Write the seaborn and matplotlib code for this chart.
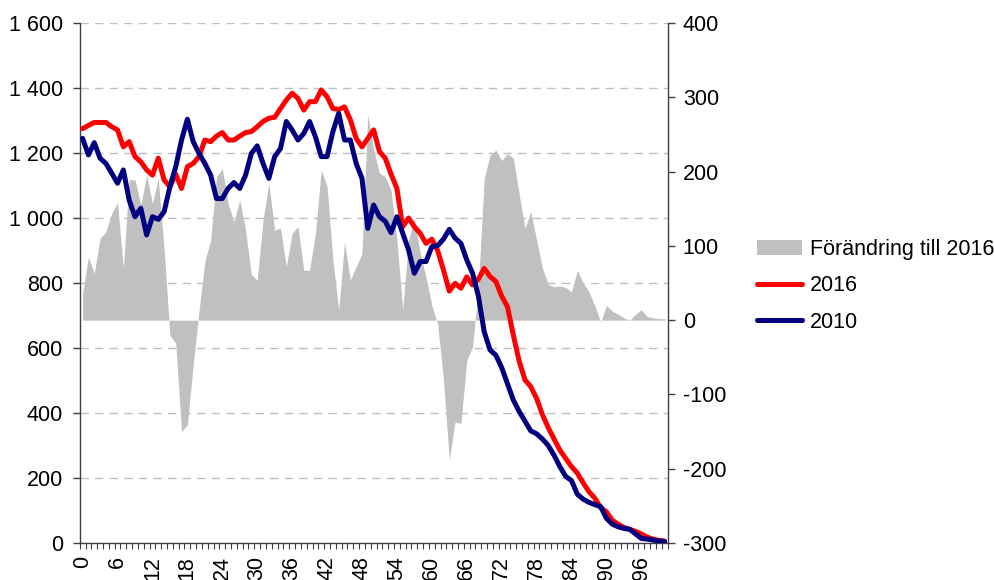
import numpy as np
import matplotlib
matplotlib.use("Agg")
import matplotlib.pyplot as plt
from matplotlib.ticker import FuncFormatter
import seaborn as sns

# ages 0-100 (one category per year)
ages = list(range(0, 101))

pop_2016 = [1275, 1285, 1294, 1294, 1294, 1281, 1271, 1219, 1235, 1189,
            1173, 1148, 1132, 1184, 1117, 1096, 1135, 1091, 1158, 1168,
            1189, 1240, 1235, 1252, 1263, 1240, 1240, 1252, 1263, 1266,
            1281, 1297, 1307, 1310, 1337, 1363, 1384, 1368, 1332, 1358,
            1358, 1394, 1373, 1337, 1334, 1342, 1302, 1245, 1219, 1245,
            1271, 1205, 1184, 1135, 1091, 973, 1000, 973, 953, 922,
            935, 900, 840, 775, 799, 784, 819, 794, 812, 845,
            820, 805, 760, 727, 640, 560, 502, 481, 445, 395,
            355, 320, 286, 260, 235, 215, 185, 158, 138, 109,
            96, 70, 58, 48, 42, 36, 28, 18, 12, 8,
            6]

pop_2010 = [1245, 1194, 1232, 1184, 1168, 1138, 1107, 1148, 1055, 1004,
            1030, 948, 1004, 996, 1019, 1096, 1158, 1240, 1304, 1235,
            1199, 1168, 1132, 1060, 1060, 1091, 1109, 1091, 1132, 1199,
            1222, 1168, 1122, 1189, 1214, 1297, 1271, 1240, 1260, 1297,
            1250, 1189, 1189, 1266, 1322, 1240, 1240, 1168, 1122, 968,
            1040, 1004, 990, 955, 1004, 953, 902, 830, 866, 866,
            912, 915, 935, 965, 938, 922, 871, 830, 760, 650,
            594, 578, 540, 490, 440, 405, 375, 345, 336, 320,
            300, 270, 235, 205, 192, 150, 135, 125, 118, 112,
            76, 58, 50, 45, 42, 28, 14, 12, 9, 6,
            4]

change = [36, 85, 63, 110, 119, 144, 158, 70, 189, 189,
          155, 195, 157, 191, 95, -20, -31, -150, -141, -60,
          12, 79, 108, 193, 204, 157, 132, 162, 121, 61,
          54, 135, 184, 121, 124, 72, 117, 126, 67, 67,
          117, 202, 180, 81, 14, 105, 54, 72, 90, 276,
          229, 198, 193, 175, 108, 14, 108, 137, 90, 58,
          20, -5, -80, -188, -137, -139, -54, -36, 45, 191,
          222, 229, 215, 224, 218, 170, 124, 146, 108, 70,
          48, 45, 46, 44, 38, 67, 50, 38, 20, -3,
          20, 12, 8, 3, 0, 8, 14, 5, 3, 2,
          2]

label_ages = list(range(0, 97, 6))
left_ticks = list(range(0, 1601, 200))
right_ticks = list(range(-300, 401, 100))

sns.set_style("white")
plt.rcParams['font.family'] = ['Liberation Sans', 'DejaVu Sans']
plt.rcParams['axes.unicode_minus'] = False
plt.rcParams['text.color'] = 'black'
fs = 15.5

fig = plt.figure(figsize=(9.95, 5.8), dpi=100)
ax = fig.add_axes([0.0801, 0.0638, 0.5908, 0.8965])
ax2 = ax.twinx()
ax2.set_ylim(-300, 400)

# grey area on the right scale, drawn inside the left axes so it sits above the grid
area = ax.fill_between(ages, change, 0, transform=ax2.transData,
                       color='#C0C0C0', lw=0, zorder=1, label='Förändring till 2016')

sns.lineplot(x=ages, y=pop_2016, ax=ax, color='#FF0000', lw=3.6, legend=False,
             zorder=3, solid_joinstyle='round')
sns.lineplot(x=ages, y=pop_2010, ax=ax, color='#000080', lw=3.6, legend=False,
             zorder=4, solid_joinstyle='round')

ax.set_xlim(-0.5, 100.5)
ax.set_ylim(0, 1600)
ax.set_xlabel('')
ax.set_ylabel('')

# x axis: labels every 6 years, small ticks between categories
ax.set_xticks(label_ages)
ax.set_xticklabels([str(a) for a in label_ages], rotation=90, fontsize=fs)
ax.set_xticks(np.arange(-0.5, 101, 1), minor=True)
ax.tick_params(axis='x', which='major', length=0, pad=9.5, labelcolor='black')
ax.tick_params(axis='x', which='minor', length=4, width=0.8, color='#404040',
               direction='out', bottom=True)

ax.set_yticks(left_ticks)
ax.yaxis.set_major_formatter(FuncFormatter(lambda v, p: f"{int(v):,}".replace(",", " ")))
ax.tick_params(axis='y', length=5, width=1, color='#404040', direction='out',
               left=True, pad=7, labelsize=fs, labelcolor='black')

ax2.set_yticks(right_ticks)
ax2.tick_params(axis='y', length=5, width=1, color='#404040', direction='out',
                right=True, pad=6, labelsize=fs, labelcolor='black')

ax.set_axisbelow(True)
ax.yaxis.grid(True, color='#BFBFBF', linestyle=(0, (6, 4.5)), lw=1)
ax.xaxis.grid(False)

for s in ['top', 'right']:
    ax.spines[s].set_visible(False)
for s in ['top', 'left', 'bottom']:
    ax2.spines[s].set_visible(False)
for s in ['left', 'bottom']:
    ax.spines[s].set_color('#404040')
    ax.spines[s].set_linewidth(1)
ax2.spines['right'].set_color('#404040')
ax2.spines['right'].set_linewidth(1)

handles = [area, ax.lines[0], ax.lines[1]]
labels = ['Förändring till 2016', '2016', '2010']
fig.legend(handles, labels, loc='upper left', bbox_to_anchor=(0.761, 0.588),
           frameon=False, fontsize=fs, handlelength=2.1, handleheight=0.75,
           handletextpad=0.35, labelspacing=0.71, borderpad=0, borderaxespad=0)

fig.savefig('out.png', dpi=100)
